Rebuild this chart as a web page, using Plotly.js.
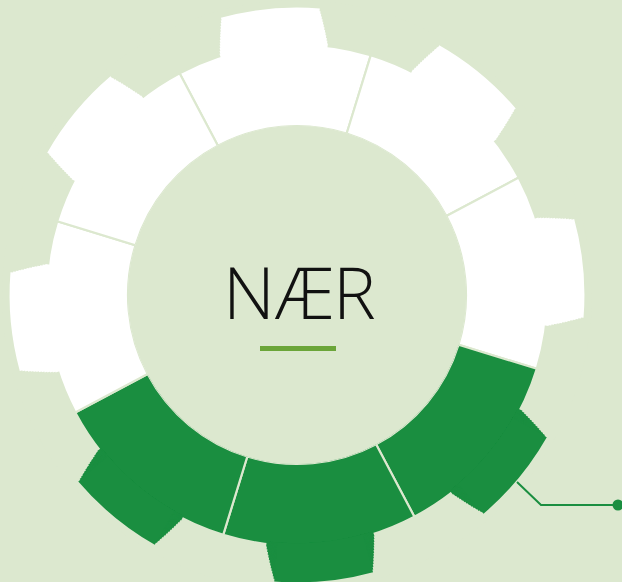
<!DOCTYPE html>
<html><head><meta charset="utf-8">
<script src="https://cdn.plot.ly/plotly-3.0.1.min.js"></script>
<style>html,body{margin:0;padding:0;overflow:hidden;background:#dce8cf}</style>
</head><body><div id="chart" style="width:622px;height:590px"></div>
<script>
// ---- data ----
const segments = ['1', '2', '3', '4', '5', '6', '7', '8'];
const segmentAngles = [95.4, 50.4, 5.4, 320.4, 275.4, 230.4, 185.4, 140.4];
const ringValues = [65, 65, 65, 65, 65, 65, 65, 65];
const toothValues = [94, 94, 94, 94, 94, 94, 94, 94];
const highlighted = [0, 0, 0, 1, 1, 1, 0, 0];
const centerLabel = 'NÆR';

// ---- style ----
const BG = '#dce8cf';
const GREEN = '#1a8e40';
const WHITE = '#ffffff';
const ACCENT = '#6ba539';
const W = 622, H = 590;
const TOOTH_BASE_W = 25.0, TOOTH_TOP_W = 19.7, N_LAYERS = 14;

const colors = highlighted.map(h => h ? GREEN : WHITE);
const traces = [];
const segW = 360 / segments.length;

traces.push({
  type: 'barpolar',
  r: ringValues,
  theta: segmentAngles,
  width: segments.map(() => segW),
  offset: segments.map(() => -segW / 2),
  base: segments.map(() => 0),
  marker: { color: colors, line: { color: BG, width: 2.2 } },
  hoverinfo: 'skip',
  showlegend: false
});

// tapered tooth: nested bars, each from the ring edge up to its own height
for (let k = 0; k < N_LAYERS; k++) {
  const f = (k + 0.5) / N_LAYERS;
  const w = TOOTH_BASE_W + (TOOTH_TOP_W - TOOTH_BASE_W) * f;
  const lo = ringValues.map(rv => rv - 2);
  const hi = ringValues.map((rv, i) => rv + (toothValues[i] - rv) * (k + 1) / N_LAYERS);
  traces.push({
    type: 'barpolar',
    r: hi.map((h, i) => h - lo[i]),
    base: lo,
    theta: segmentAngles,
    width: segments.map(() => w),
    offset: segments.map(() => -w / 2),
    marker: { color: colors, line: { width: 0 } },
    hoverinfo: 'skip',
    showlegend: false
  });
}

const px = x => x / W;
const py = y => 1 - y / H;

const layout = {
  width: W, height: H,
  margin: { l: 0, r: 0, t: 0, b: 0 },
  paper_bgcolor: BG, plot_bgcolor: BG,
  showlegend: false,
  polar: {
    domain: { x: [0, 594 / W], y: [0, 1] },
    bgcolor: BG,
    hole: 169 / 295,
    barmode: 'overlay',
    radialaxis: { range: [0, 100], autorange: false, visible: false, showgrid: false, showline: false, showticklabels: false, ticks: '' },
    angularaxis: { rotation: 0, direction: 'counterclockwise', visible: false, showgrid: false, showline: false, showticklabels: false, ticks: '' }
  },
  annotations: [{
    text: centerLabel, xref: 'paper', yref: 'paper',
    x: px(299.5), y: py(291), xanchor: 'center', yanchor: 'middle', showarrow: false,
    font: { family: 'Open Sans', size: 72, color: '#111111', weight: 300 }
  }],
  shapes: [
    { type: 'rect', xref: 'paper', yref: 'paper', x0: px(260), x1: px(336), y0: py(351), y1: py(346),
      fillcolor: ACCENT, line: { width: 0 } },
    { type: 'path', xref: 'paper', yref: 'paper',
      path: `M ${px(517)} ${py(482)} L ${px(541)} ${py(505)} L ${px(616)} ${py(505)}`,
      line: { color: GREEN, width: 2 } },
    { type: 'circle', xref: 'paper', yref: 'paper', x0: px(612.5), x1: px(623.5), y0: py(510.5), y1: py(499.5),
      fillcolor: GREEN, line: { width: 0 } }
  ]
};

Plotly.newPlot('chart', traces, layout, { displayModeBar: false, staticPlot: true });
</script></body></html>
